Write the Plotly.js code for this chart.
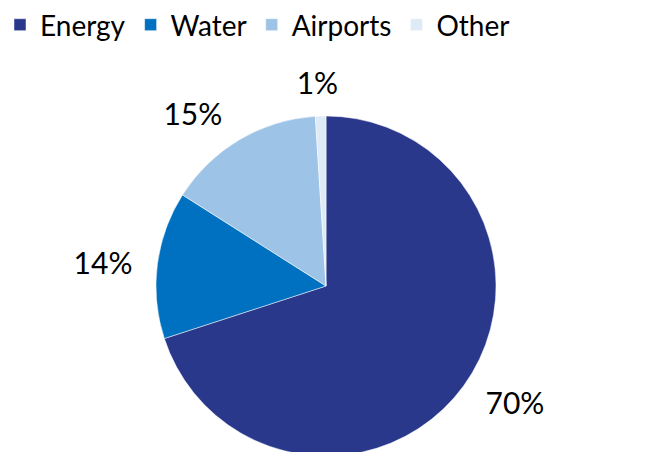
<!DOCTYPE html>
<html>
<head>
<meta charset="utf-8">
<script src="https://cdn.plot.ly/plotly-3.0.1.min.js"></script>
<style>
html,body{margin:0;padding:0;overflow:hidden;width:654px;height:452px;background:#fff;}
#chart{width:654px;height:500px;}
</style>
</head>
<body>
<div id="chart"></div>
<script>
const categories = ["Energy", "Water", "Airports", "Other"];
const shares = [70, 14, 15, 1];
const sliceColors = ["#29388B", "#0070C0", "#9DC3E6", "#DEEBF7"];

const FONT = "Lato, 'Open Sans', sans-serif";

const mainPie = {
  type: "pie",
  labels: categories,
  values: shares,
  sort: false,
  direction: "clockwise",
  rotation: 0,
  marker: {colors: sliceColors, line: {color: "#ffffff", width: 0.5}},
  textinfo: "none",
  hoverinfo: "label+percent",
  domain: {x: [156/654, 496/654], y: [0.088, 0.768]},
  showlegend: true
};

function labelPie(positions, domainX) {
  return {
    type: "pie",
    labels: categories,
    values: shares,
    sort: false,
    direction: "clockwise",
    rotation: 0,
    marker: {colors: categories.map(() => "rgba(0,0,0,0)"), line: {width: 0}},
    textinfo: "percent",
    texttemplate: "%{percent:.0%}",
    textposition: positions,
    outsidetextfont: {family: FONT, size: 30, color: "#000000"},
    hoverinfo: "skip",
    domain: {x: domainX, y: [0.056, 0.8]},
    showlegend: false
  };
}

const layout = {
  width: 654,
  height: 500,
  margin: {l: 0, r: 0, t: 0, b: 0},
  paper_bgcolor: "#ffffff",
  font: {family: FONT, size: 28, color: "#000000"},
  legend: {
    orientation: "h",
    x: 0.0, xanchor: "left",
    y: 1.0, yanchor: "top",
    font: {family: FONT, size: 28, color: "#000000"},
    traceorder: "normal"
  }
};

Plotly.newPlot("chart", [
  mainPie,
  labelPie(["outside", "outside", "outside", "none"], [140/654, 512/654]),
  labelPie(["none", "none", "none", "outside"], [167/654, 539/654])
], layout, {displayModeBar: false, staticPlot: true});
</script>
</body>
</html>
